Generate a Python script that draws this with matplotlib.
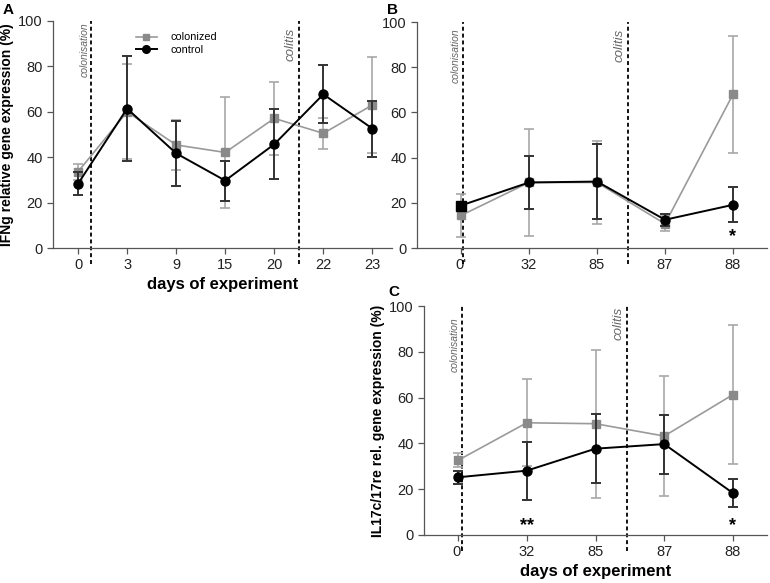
import numpy as np
import matplotlib
matplotlib.use("Agg")
import matplotlib.pyplot as plt
from matplotlib.lines import Line2D

plt.rcParams['font.family'] = ['Liberation Sans', 'DejaVu Sans']

# panel A - IFNg
days_a = ['0', '3', '9', '15', '20', '22', '23']
col_a = [33.6, 60.0, 45.4, 42.1, 57.1, 50.5, 63.0]
col_a_err = [3.5, 21.0, 11.2, 24.3, 16.0, 6.8, 21.3]
ctl_a = [28.3, 61.4, 41.7, 29.7, 45.7, 67.7, 52.6]
ctl_a_err = [5.0, 23.0, 14.2, 8.8, 15.5, 12.7, 12.3]

# panel B
days_bc = ["0'", '32', '85', '87', '88']
col_b = [14.4, 29.0, 29.0, 10.7, 68.0]
col_b_err = [9.7, 23.5, 18.2, 3.3, 25.8]
ctl_b = [18.8, 29.0, 29.4, 12.5, 19.1]
ctl_b_err = [0.8, 11.6, 16.5, 2.6, 7.7]

# panel C - IL17c/17re
col_c = [32.6, 49.0, 48.6, 43.2, 61.3]
col_c_err = [3.1, 19.0, 32.3, 26.3, 30.3]
ctl_c = [25.2, 28.1, 37.7, 39.7, 18.3]
ctl_c_err = [2.8, 12.7, 15.1, 12.9, 6.2]

W, H = 770, 583
GRAY_L = '#9a9a9a'
GRAY_M = '#8a8a8a'
GRAY_E = '#a8a8a8'
AX_C = '#555555'


def rect(l, t, r, b):
    return [l / W, 1 - b / H, (r - l) / W, (b - t) / H]


def style(ax, labels, xlim):
    ax.set_xlim(*xlim)
    ax.set_ylim(0, 100)
    ax.set_xticks(range(len(labels)))
    ax.set_xticklabels(labels)
    ax.set_yticks(range(0, 101, 20))
    for s in ['top', 'right']:
        ax.spines[s].set_visible(False)
    for s in ['left', 'bottom']:
        ax.spines[s].set_color(AX_C)
        ax.spines[s].set_linewidth(0.9)
    ax.tick_params(direction='out', length=4, width=0.9, color=AX_C,
                   labelsize=10.5, labelcolor='#222222')


def draw(ax, x, col, col_err, ctl, ctl_err, first_square=False):
    ax.errorbar(x, col, yerr=col_err, color=GRAY_L, ecolor=GRAY_E, elinewidth=1.2,
                capsize=3.5, capthick=1.2, marker='s', ms=5.5, mfc=GRAY_M, mec=GRAY_M,
                lw=1.2, zorder=3)
    ax.errorbar(x, ctl, yerr=ctl_err, color='black', ecolor='#333333', elinewidth=1.4,
                capsize=3.5, capthick=1.4, marker='o', ms=6.5, mfc='black', mec='black',
                lw=1.4, zorder=4)
    if first_square:
        ax.plot(x[0], ctl[0], marker='s', ms=6.5, color='black', zorder=5)


def vline(ax, xpos, text, ty, fs):
    ax.axvline(xpos, ymin=-0.07, ymax=1.0, color='black', ls=(0, (2.2, 1.6)),
               lw=1.3, clip_on=False, zorder=2)
    ax.text(xpos - 0.04, ty, text, rotation=90, ha='right', va='top',
            style='italic', color='#666666', fontsize=fs)


fig = plt.figure(figsize=(W / 100, H / 100), dpi=100)

# A
axA = fig.add_axes(rect(53, 21, 392, 248))
xa = np.arange(len(days_a))
draw(axA, xa, col_a, col_a_err, ctl_a, ctl_a_err)
style(axA, days_a, (-0.51, 6.4))
vline(axA, 0.27, 'colonisation', 99.5, 7.5)
vline(axA, 4.5, 'colitis', 97, 9.5)
axA.set_ylabel('IFNg relative gene expression (%)', fontsize=10, fontweight='bold', labelpad=3)
axA.set_xlabel('days of experiment', fontsize=12, fontweight='bold', labelpad=3)
handles = [Line2D([], [], color=GRAY_L, marker='s', ms=5, mfc=GRAY_M, mec=GRAY_M, lw=1.2),
           Line2D([], [], color='black', marker='o', ms=5.5, lw=1.4)]
axA.legend(handles, ['colonized', 'control'], loc='upper left', bbox_to_anchor=(0.245, 0.95),
           frameon=False, fontsize=7.8, handlelength=1.9, handletextpad=1.3, labelspacing=0.2,
           borderpad=0, borderaxespad=0)

# B
axB = fig.add_axes(rect(417, 22, 767, 248))
xb = np.arange(len(days_bc))
draw(axB, xb, col_b, col_b_err, ctl_b, ctl_b_err, first_square=True)
style(axB, days_bc, (-0.647, 4.5))
vline(axB, 0.03, 'colonisation', 97, 7.5)
vline(axB, 2.46, 'colitis', 97, 9.5)
axB.text(4, 5, '*', ha='center', va='center', fontsize=13, fontweight='bold')

# C
axC = fig.add_axes(rect(424, 306, 767, 535))
draw(axC, xb, col_c, col_c_err, ctl_c, ctl_c_err)
style(axC, days_bc, (-0.495, 4.495))
vline(axC, 0.06, 'colonisation', 95, 7.5)
vline(axC, 2.46, 'colitis', 99.5, 9.5)
axC.text(1, 4, '**', ha='center', va='center', fontsize=13, fontweight='bold')
axC.text(4, 4, '*', ha='center', va='center', fontsize=13, fontweight='bold')
axC.set_ylabel('IL17c/17re rel. gene expression (%)', fontsize=10, fontweight='bold', labelpad=3)
axC.set_xlabel('days of experiment', fontsize=12, fontweight='bold', labelpad=3)

fig.text(3 / W, 1 - 10 / H, 'A', fontsize=11, fontweight='bold', va='center')
fig.text(387 / W, 1 - 10 / H, 'B', fontsize=11, fontweight='bold', va='center')
fig.text(388 / W, 1 - 292 / H, 'C', fontsize=11, fontweight='bold', va='center')

fig.savefig('out.png', dpi=100)
